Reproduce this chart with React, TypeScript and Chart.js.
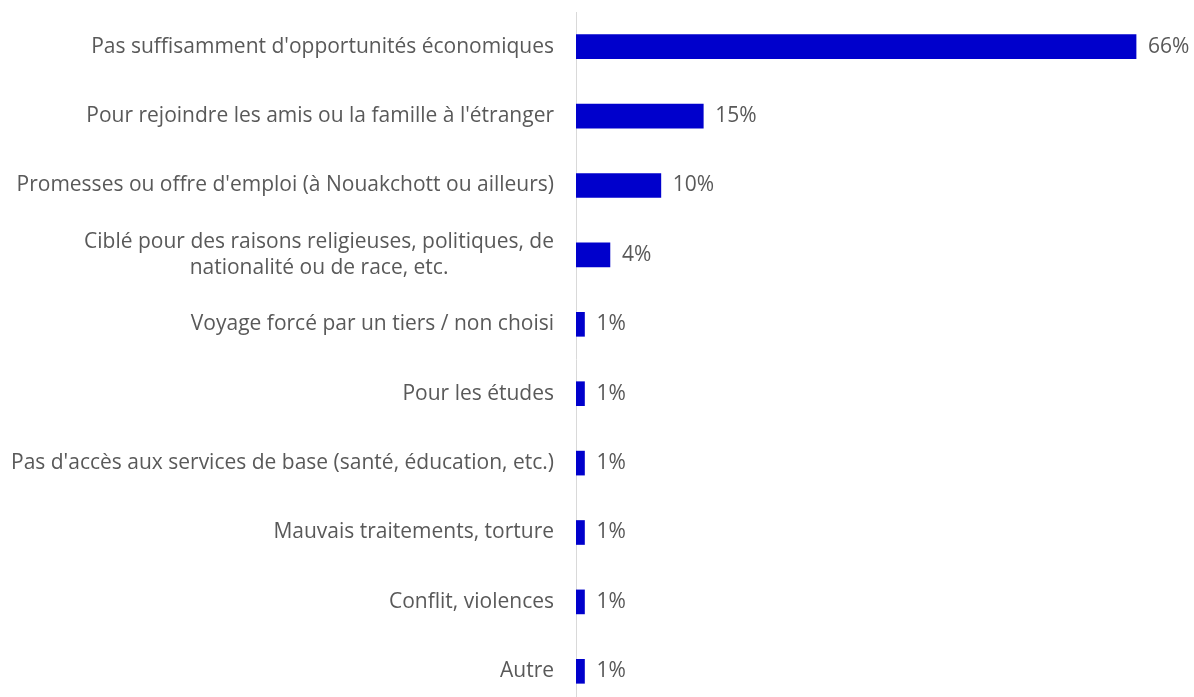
import React, { useEffect, useRef } from "react";
import { Chart, registerables } from "chart.js";

Chart.register(...registerables);

const categories: (string | string[])[] = [
  "Pas suffisamment d'opportunités économiques",
  "Pour rejoindre les amis ou la famille à l'étranger",
  "Promesses ou offre d'emploi (à Nouakchott ou ailleurs)",
  ["Ciblé pour des raisons religieuses, politiques, de", "nationalité ou de race, etc."],
  "Voyage forcé par un tiers / non choisi",
  "Pour les études",
  "Pas d'accès aux services de base (santé, éducation, etc.)",
  "Mauvais traitements, torture",
  "Conflit, violences",
  "Autre",
];

const values: number[] = [66, 15, 10, 4, 1, 1, 1, 1, 1, 1];

const FONT = "'Open Sans', sans-serif";
const FONT_SIZE = 21;
const LINE_HEIGHT = 1.27;
const LABEL_PAD = 22;
const TEXT_COLOR = "#595959";
const BAR_COLOR = "#0000CC";

const valueLabels = {
  id: "valueLabels",
  afterDatasetsDraw(chart: any) {
    const { ctx } = chart;
    const meta = chart.getDatasetMeta(0);
    ctx.save();
    ctx.font = `${FONT_SIZE}px ${FONT}`;
    ctx.fillStyle = TEXT_COLOR;
    ctx.textAlign = "left";
    ctx.textBaseline = "middle";
    meta.data.forEach((bar: any, i: number) => {
      ctx.fillText(`${values[i]}%`, bar.x + 12, bar.y);
    });
    // multi-line category labels: lines centred on each other, block right-aligned
    const yScale = chart.scales.y;
    const right = chart.chartArea.left - LABEL_PAD;
    categories.forEach((lab, i) => {
      if (!Array.isArray(lab)) return;
      const widths = lab.map((l) => ctx.measureText(l).width);
      const maxW = Math.max(...widths);
      const cx = right - maxW / 2;
      const lh = FONT_SIZE * LINE_HEIGHT;
      const cy = yScale.getPixelForTick(i);
      ctx.textAlign = "center";
      lab.forEach((l, k) => {
        ctx.fillText(l, cx, cy + (k - (lab.length - 1) / 2) * lh);
      });
    });
    ctx.restore();
  },
};

export default function App() {
  const ref = useRef<HTMLCanvasElement>(null);
  useEffect(() => {
    document.body.style.margin = "0";
    const chart = new Chart(ref.current!, {
      type: "bar",
      data: {
        labels: categories,
        datasets: [
          {
            data: values,
            backgroundColor: BAR_COLOR,
            barThickness: 24,
          },
        ],
      },
      options: {
        indexAxis: "y",
        responsive: false,
        animation: false,
        layout: { padding: { top: 12, right: 24, bottom: 14, left: 0 } },
        plugins: { legend: { display: false }, tooltip: { enabled: false } },
        scales: {
          x: {
            display: false,
            min: 0,
            max: 70,
          },
          y: {
            grid: { display: false, drawTicks: false },
            border: { display: true, color: "#D9D9D9", width: 1 },
            ticks: {
              color: (c: any) => (Array.isArray(categories[c.index]) ? "rgba(0,0,0,0)" : TEXT_COLOR),
              font: { family: FONT, size: FONT_SIZE, lineHeight: LINE_HEIGHT },
              padding: LABEL_PAD,
            },
            afterFit: (scale: any) => {
              scale.width = 576;
              scale.paddingTop = 0;
              scale.paddingBottom = 0;
            },
          },
        },
      },
      plugins: [valueLabels],
    });
    return () => chart.destroy();
  }, []);
  return (
    <div style={{ width: 1194, height: 697, overflow: "hidden", position: "relative", background: "#fff" }}>
      <canvas ref={ref} width={1194} height={720} style={{ display: "block" }} />
    </div>
  );
}
